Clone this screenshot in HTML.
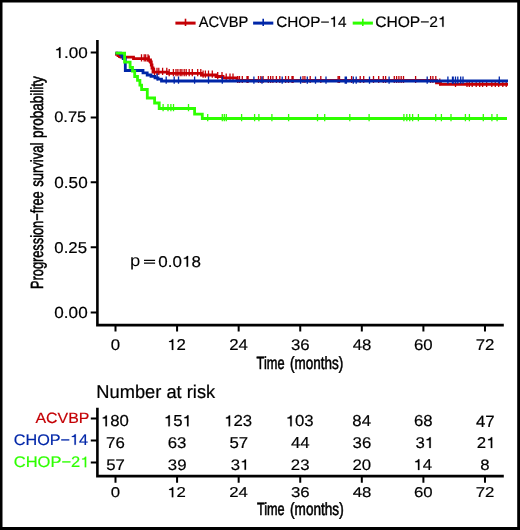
<!DOCTYPE html>
<html><head><meta charset="utf-8"><style>
html,body{margin:0;padding:0;background:#fff;}
body{width:520px;height:530px;overflow:hidden;}
svg{display:block;will-change:transform;}
text{font-family:"Liberation Sans",sans-serif;text-rendering:geometricPrecision;}
</style></head><body>
<svg width="520" height="530" viewBox="0 0 520 530">
<rect x="0" y="0" width="520" height="530" fill="#fff"/>
<path d="M0,0H520V530H0Z M2.5,2.5V526.9H517.2V2.5Z" fill="#000" fill-rule="evenodd"/>
<path d="M97.4,40V325.1H503.8" fill="none" stroke="#000" stroke-width="2.6"/>
<path d="M90.7,52.5H97M90.7,117.4H97M90.7,182.2H97M90.7,247.2H97M90.7,312.4H97M115.50,325V331.6M177.08,325V331.6M238.66,325V331.6M300.24,325V331.6M361.82,325V331.6M423.40,325V331.6M484.98,325V331.6" stroke="#000" stroke-width="2"/>
<path d="M97.4,407.8V476.1H503.8" fill="none" stroke="#000" stroke-width="2.6"/>
<path d="M90.8,418.5H97M90.8,440.5H97M90.8,462.6H97M115.50,476V482.8M177.08,476V482.8M238.66,476V482.8M300.24,476V482.8M361.82,476V482.8M423.40,476V482.8M484.98,476V482.8" stroke="#000" stroke-width="2"/>
<g font-family="Liberation Sans" font-size="100">
<g transform="matrix(0.17098 0 0 0.15406 54.386 57.946)" fill="#000" stroke="#000" stroke-width="1.2"><text> .00</text><path transform="translate(0.00 0)" d="M35.9,0V-68.75H28.6C27.2,-62.5 20.5,-57.2 10.9,-56.2V-50.2H27.1V0Z"/></g>
<g transform="matrix(0.16515 0 0 0.15124 54.139 122.049)" fill="#000" stroke="#000" stroke-width="1.2"><text>0.75</text></g>
<g transform="matrix(0.17135 0 0 0.15972 54.315 187.640)" fill="#000" stroke="#000" stroke-width="1.2"><text>0.50</text></g>
<g transform="matrix(0.16783 0 0 0.15689 54.329 252.643)" fill="#000" stroke="#000" stroke-width="1.2"><text>0.25</text></g>
<g transform="matrix(0.17135 0 0 0.15972 54.315 317.640)" fill="#000" stroke="#000" stroke-width="1.2"><text>0.00</text></g>
<text transform="matrix(0 -0.12770 0.17587 0 43.251 288.954)" fill="#000" stroke="#000" stroke-width="3.3">Progression−free</text><text transform="matrix(0 -0.13080 0.17587 0 43.251 186.860)" fill="#000" stroke="#000" stroke-width="3.3">survival</text><text transform="matrix(0 -0.13519 0.17587 0 43.251 137.879)" fill="#000" stroke="#000" stroke-width="3.3">probability</text>
<g transform="matrix(0.16800 0 0 0.15406 110.817 349.746)" fill="#000" stroke="#000" stroke-width="1.2"><text>0</text></g>
<g transform="matrix(0.16800 0 0 0.14134 110.817 497.059)" fill="#000" stroke="#000" stroke-width="1.2"><text>0</text></g>
<g transform="matrix(0.16800 0 0 0.15627 167.260 349.900)" fill="#000" stroke="#000" stroke-width="1.2"><text> 2</text><path transform="translate(0.00 0)" d="M35.9,0V-68.75H28.6C27.2,-62.5 20.5,-57.2 10.9,-56.2V-50.2H27.1V0Z"/></g>
<g transform="matrix(0.16800 0 0 0.14337 167.260 497.200)" fill="#000" stroke="#000" stroke-width="1.2"><text> 2</text><path transform="translate(0.00 0)" d="M35.9,0V-68.75H28.6C27.2,-62.5 20.5,-57.2 10.9,-56.2V-50.2H27.1V0Z"/></g>
<g transform="matrix(0.16800 0 0 0.15627 229.147 349.900)" fill="#000" stroke="#000" stroke-width="1.2"><text>24</text></g>
<g transform="matrix(0.16800 0 0 0.14337 229.147 497.200)" fill="#000" stroke="#000" stroke-width="1.2"><text>24</text></g>
<g transform="matrix(0.16800 0 0 0.15406 290.958 349.746)" fill="#000" stroke="#000" stroke-width="1.2"><text>36</text></g>
<g transform="matrix(0.16800 0 0 0.14134 290.958 497.059)" fill="#000" stroke="#000" stroke-width="1.2"><text>36</text></g>
<g transform="matrix(0.16800 0 0 0.15406 352.664 349.746)" fill="#000" stroke="#000" stroke-width="1.2"><text>48</text></g>
<g transform="matrix(0.16800 0 0 0.14134 352.664 497.059)" fill="#000" stroke="#000" stroke-width="1.2"><text>48</text></g>
<g transform="matrix(0.16800 0 0 0.15406 413.971 349.746)" fill="#000" stroke="#000" stroke-width="1.2"><text>60</text></g>
<g transform="matrix(0.16800 0 0 0.14134 413.971 497.059)" fill="#000" stroke="#000" stroke-width="1.2"><text>60</text></g>
<g transform="matrix(0.16800 0 0 0.15627 475.635 349.900)" fill="#000" stroke="#000" stroke-width="1.2"><text>72</text></g>
<g transform="matrix(0.16800 0 0 0.14337 475.635 497.200)" fill="#000" stroke="#000" stroke-width="1.2"><text>72</text></g>
<text transform="matrix(0.12830 0 0 0.17694 256.611 369.128)" fill="#000" stroke="#000" stroke-width="3.3">Time</text><text transform="matrix(0.13455 0 0 0.17694 290.059 369.128)" fill="#000" stroke="#000" stroke-width="3.3">(months)</text>
<text transform="matrix(0.12689 0 0 0.17694 256.915 515.128)" fill="#000" stroke="#000" stroke-width="3.3">Time</text><text transform="matrix(0.13586 0 0 0.17694 290.051 515.128)" fill="#000" stroke="#000" stroke-width="3.3">(months)</text>
<g transform="matrix(0.18444 0 0 0.16510 129.901 266.474)" fill="#000" stroke="none"><text>p</text></g>
<path d="M144,260.35H155.1M144,263.05H155.1" stroke="#000" stroke-width="1.3"/>
<g transform="matrix(0.17025 0 0 0.15689 158.319 266.743)" fill="#000" stroke="#000" stroke-width="1.2"><text>0.0 8</text><path transform="translate(139.02 0)" d="M35.9,0V-68.75H28.6C27.2,-62.5 20.5,-57.2 10.9,-56.2V-50.2H27.1V0Z"/></g>
<g transform="matrix(0.14603 0 0 0.15265 198.663 26.747)" fill="#000" stroke="#000" stroke-width="1.2"><text>ACVBP</text></g>
<g transform="matrix(0.15352 0 0 0.14982 276.132 26.750)" fill="#000" stroke="#000" stroke-width="1.2"><text>CHOP− 4</text><path transform="translate(347.32 0)" d="M35.9,0V-68.75H28.6C27.2,-62.5 20.5,-57.2 10.9,-56.2V-50.2H27.1V0Z"/></g>
<g transform="matrix(0.15582 0 0 0.15124 375.221 26.849)" fill="#000" stroke="#000" stroke-width="1.2"><text>CHOP−2 </text><path transform="translate(402.94 0)" d="M35.9,0V-68.75H28.6C27.2,-62.5 20.5,-57.2 10.9,-56.2V-50.2H27.1V0Z"/></g>
<g transform="matrix(0.18287 0 0 0.18503 96.291 398.015)" fill="#000" stroke="#000" stroke-width="1.2"><text>Number at risk</text></g>
<g transform="matrix(0.15892 0 0 0.14982 35.460 422.850)" fill="#c40005" stroke="#c40005" stroke-width="1.2"><text>ACVBP</text></g>
<g transform="matrix(0.16195 0 0 0.15406 13.790 444.846)" fill="#0026a8" stroke="#0026a8" stroke-width="1.2"><text>CHOP− 4</text><path transform="translate(347.32 0)" d="M35.9,0V-68.75H28.6C27.2,-62.5 20.5,-57.2 10.9,-56.2V-50.2H27.1V0Z"/></g>
<g transform="matrix(0.16504 0 0 0.15406 13.775 467.246)" fill="#2eff00" stroke="#2eff00" stroke-width="1.2"><text>CHOP−2 </text><path transform="translate(402.94 0)" d="M35.9,0V-68.75H28.6C27.2,-62.5 20.5,-57.2 10.9,-56.2V-50.2H27.1V0Z"/></g>
<g transform="matrix(0.16800 0 0 0.15830 100.892 426.342)" fill="#000" stroke="#000" stroke-width="1.2"><text> 80</text><path transform="translate(0.00 0)" d="M35.9,0V-68.75H28.6C27.2,-62.5 20.5,-57.2 10.9,-56.2V-50.2H27.1V0Z"/></g>
<g transform="matrix(0.16800 0 0 0.16057 163.805 426.339)" fill="#000" stroke="#000" stroke-width="1.2"><text> 5 </text><path transform="translate(0.00 0)" d="M35.9,0V-68.75H28.6C27.2,-62.5 20.5,-57.2 10.9,-56.2V-50.2H27.1V0Z"/><path transform="translate(111.23 0)" d="M35.9,0V-68.75H28.6C27.2,-62.5 20.5,-57.2 10.9,-56.2V-50.2H27.1V0Z"/></g>
<g transform="matrix(0.16800 0 0 0.15830 224.094 426.342)" fill="#000" stroke="#000" stroke-width="1.2"><text> 23</text><path transform="translate(0.00 0)" d="M35.9,0V-68.75H28.6C27.2,-62.5 20.5,-57.2 10.9,-56.2V-50.2H27.1V0Z"/></g>
<g transform="matrix(0.16800 0 0 0.15830 285.674 426.342)" fill="#000" stroke="#000" stroke-width="1.2"><text> 03</text><path transform="translate(0.00 0)" d="M35.9,0V-68.75H28.6C27.2,-62.5 20.5,-57.2 10.9,-56.2V-50.2H27.1V0Z"/></g>
<g transform="matrix(0.16800 0 0 0.15830 352.370 426.342)" fill="#000" stroke="#000" stroke-width="1.2"><text>84</text></g>
<g transform="matrix(0.16800 0 0 0.15830 414.013 426.342)" fill="#000" stroke="#000" stroke-width="1.2"><text>68</text></g>
<g transform="matrix(0.16800 0 0 0.16291 475.887 426.500)" fill="#000" stroke="#000" stroke-width="1.2"><text>47</text></g>
<g transform="matrix(0.16800 0 0 0.15548 106.092 447.945)" fill="#000" stroke="#000" stroke-width="1.2"><text>76</text></g>
<g transform="matrix(0.16800 0 0 0.15548 167.693 447.945)" fill="#000" stroke="#000" stroke-width="1.2"><text>63</text></g>
<g transform="matrix(0.16800 0 0 0.15771 229.420 447.942)" fill="#000" stroke="#000" stroke-width="1.2"><text>57</text></g>
<g transform="matrix(0.16800 0 0 0.16000 290.958 448.100)" fill="#000" stroke="#000" stroke-width="1.2"><text>44</text></g>
<g transform="matrix(0.16800 0 0 0.15548 352.538 447.945)" fill="#000" stroke="#000" stroke-width="1.2"><text>36</text></g>
<g transform="matrix(0.16800 0 0 0.15548 415.398 447.945)" fill="#000" stroke="#000" stroke-width="1.2"><text>3 </text><path transform="translate(55.62 0)" d="M35.9,0V-68.75H28.6C27.2,-62.5 20.5,-57.2 10.9,-56.2V-50.2H27.1V0Z"/></g>
<g transform="matrix(0.16800 0 0 0.15771 476.873 448.100)" fill="#000" stroke="#000" stroke-width="1.2"><text>2 </text><path transform="translate(55.62 0)" d="M35.9,0V-68.75H28.6C27.2,-62.5 20.5,-57.2 10.9,-56.2V-50.2H27.1V0Z"/></g>
<g transform="matrix(0.16800 0 0 0.15341 106.260 469.847)" fill="#000" stroke="#000" stroke-width="1.2"><text>57</text></g>
<g transform="matrix(0.16800 0 0 0.15124 167.819 469.849)" fill="#000" stroke="#000" stroke-width="1.2"><text>39</text></g>
<g transform="matrix(0.16800 0 0 0.15124 230.658 469.849)" fill="#000" stroke="#000" stroke-width="1.2"><text>3 </text><path transform="translate(55.62 0)" d="M35.9,0V-68.75H28.6C27.2,-62.5 20.5,-57.2 10.9,-56.2V-50.2H27.1V0Z"/></g>
<g transform="matrix(0.16800 0 0 0.15124 290.853 469.849)" fill="#000" stroke="#000" stroke-width="1.2"><text>23</text></g>
<g transform="matrix(0.16800 0 0 0.15124 352.391 469.849)" fill="#000" stroke="#000" stroke-width="1.2"><text>20</text></g>
<g transform="matrix(0.16800 0 0 0.15564 413.391 470.000)" fill="#000" stroke="#000" stroke-width="1.2"><text> 4</text><path transform="translate(0.00 0)" d="M35.9,0V-68.75H28.6C27.2,-62.5 20.5,-57.2 10.9,-56.2V-50.2H27.1V0Z"/></g>
<g transform="matrix(0.16800 0 0 0.15124 480.318 469.849)" fill="#000" stroke="#000" stroke-width="1.2"><text>8</text></g>
</g>
<path d="M175.4,23.1h20.2" stroke="#c40005" stroke-width="3"/>
<path d="M185.5,18.7V26" stroke="#c40005" stroke-width="1.6"/>
<path d="M253.1,23.1h20.2" stroke="#0026a8" stroke-width="3"/>
<path d="M263.2,18.7V26" stroke="#0026a8" stroke-width="1.6"/>
<path d="M352.7,23.1h20.2" stroke="#2eff00" stroke-width="3"/>
<path d="M362.8,18.7V26" stroke="#2eff00" stroke-width="1.6"/>
<path d="M115.5,53.2H116.5V54.4H118V55.5H119.5V56.5H121V57.2H133.5V58.6H148V60H150.5V62H151.3V65H152V68H153V72.2H167.5V73.4H201.5V75H216V76.5H223V77.8H237V80.3H436.5V82.8H440.5V84.3H508" fill="none" stroke="#c40005" stroke-width="2.8" stroke-linejoin="miter" stroke-linecap="butt"/>
<path d="M141.5,54.2v7.2M144.2,54.2v7.2M145.7,54.2v7.2M148.0,54.2v7.2M149.2,55.6v7.2M154.5,67.8v7.2M157.0,67.8v7.2M158.8,67.8v7.2M162.6,67.8v7.2M166.8,67.8v7.2M169.2,69.0v7.2M173.4,69.0v7.2M176.0,69.0v7.2M177.9,69.0v7.2M180.2,69.0v7.2M181.9,69.0v7.2M184.2,69.0v7.2M186.2,69.0v7.2M189.2,69.0v7.2M192.3,69.0v7.2M197.7,69.0v7.2M200.8,69.0v7.2M203.1,70.6v7.2M205.4,70.6v7.2M208.5,70.6v7.2M212.3,70.6v7.2M217.7,72.1v7.2M222.0,72.1v7.2M226.2,73.4v7.2M230.0,73.4v7.2M233.0,73.4v7.2M237.7,75.9v7.2M239.5,75.9v7.2M242.3,75.9v7.2M247.0,75.9v7.2M248.1,75.9v7.2M258.5,75.9v7.2M260.8,75.9v7.2M263.1,75.9v7.2M268.3,75.9v7.2M270.6,75.9v7.2M272.9,75.9v7.2M276.4,75.9v7.2M279.8,75.9v7.2M285.6,75.9v7.2M288.5,75.9v7.2M292.0,75.9v7.2M293.1,75.9v7.2M303.0,75.9v7.2M304.9,75.9v7.2M310.2,75.9v7.2M320.8,75.9v7.2M338.1,75.9v7.2M339.5,75.9v7.2M351.6,75.9v7.2M360.2,75.9v7.2M363.7,75.9v7.2M373.5,75.9v7.2M378.7,75.9v7.2M383.3,75.9v7.2M385.6,75.9v7.2M394.3,75.9v7.2M396.6,75.9v7.2M398.9,75.9v7.2M401.2,75.9v7.2M403.5,75.9v7.2M415.6,75.9v7.2M430.6,75.9v7.2M432.9,75.9v7.2M435.8,75.9v7.2M439.8,78.4v7.2M455.5,79.9v7.2M467.0,79.9v7.2M469.3,79.9v7.2M472.2,79.9v7.2M476.2,79.9v7.2M479.7,79.9v7.2M482.6,79.9v7.2M486.6,79.9v7.2M491.8,79.9v7.2M495.3,79.9v7.2M498.7,79.9v7.2M502.8,79.9v7.2M506.2,79.9v7.2" stroke="#c40005" stroke-width="1.3"/>
<path d="M115.5,53.2H120.5V54.5H122V56.5H123.2V58.5H125.3V70.5H143V72.8H147.2V75H151V76.4H155V77.8H158V79.2H161.5V81H508" fill="none" stroke="#0026a8" stroke-width="2.8" stroke-linejoin="miter" stroke-linecap="butt"/>
<path d="M157.2,73.4v7.2M166.2,76.6v7.2M174.2,76.6v7.2M178.5,76.6v7.2M194.6,76.6v7.2M208.5,76.6v7.2M222.3,76.6v7.2M253.9,76.6v7.2M262.0,76.6v7.2M282.2,76.6v7.2M300.6,76.6v7.2M307.3,76.6v7.2M315.5,76.6v7.2M326.0,76.6v7.2M345.2,76.6v7.2M346.4,76.6v7.2M353.3,76.6v7.2M356.2,76.6v7.2M369.5,76.6v7.2M389.1,76.6v7.2M427.2,76.6v7.2M447.9,76.6v7.2M452.5,76.6v7.2M453.2,76.6v7.2M455.5,76.6v7.2M457.8,76.6v7.2M460.7,76.6v7.2M463.0,76.6v7.2M499.3,76.6v7.2" stroke="#0026a8" stroke-width="1.3"/>
<path d="M115.5,53.2H124.6V62.2H130.1V67.4H132.5V71.2H134.7V76.5H137.5V80.4H139.9V85.2H141.6V89.5H147.3V98H154.6V103H159.2V108.5H194.6V114.2H202.3V118.5H507" fill="none" stroke="#2eff00" stroke-width="2.8" stroke-linejoin="miter" stroke-linecap="butt"/>
<path d="M163.1,104.1v7.2M168.0,104.1v7.2M170.9,104.1v7.2M173.5,104.1v7.2M188.5,104.1v7.2M207.7,114.1v7.2M222.3,114.1v7.2M224.3,114.1v7.2M226.3,114.1v7.2M241.6,114.1v7.2M254.6,114.1v7.2M258.9,114.1v7.2M271.9,114.1v7.2M288.6,114.1v7.2M317.5,114.1v7.2M324.7,114.1v7.2M349.8,114.1v7.2M369.1,114.1v7.2M403.9,114.1v7.2M406.8,114.1v7.2M409.7,114.1v7.2M412.6,114.1v7.2M418.4,114.1v7.2M435.7,114.1v7.2M441.4,114.1v7.2M451.0,114.1v7.2M465.4,114.1v7.2M469.4,114.1v7.2M483.3,114.1v7.2M491.9,114.1v7.2M497.1,114.1v7.2" stroke="#2eff00" stroke-width="1.3"/>
</svg>
</body></html>
